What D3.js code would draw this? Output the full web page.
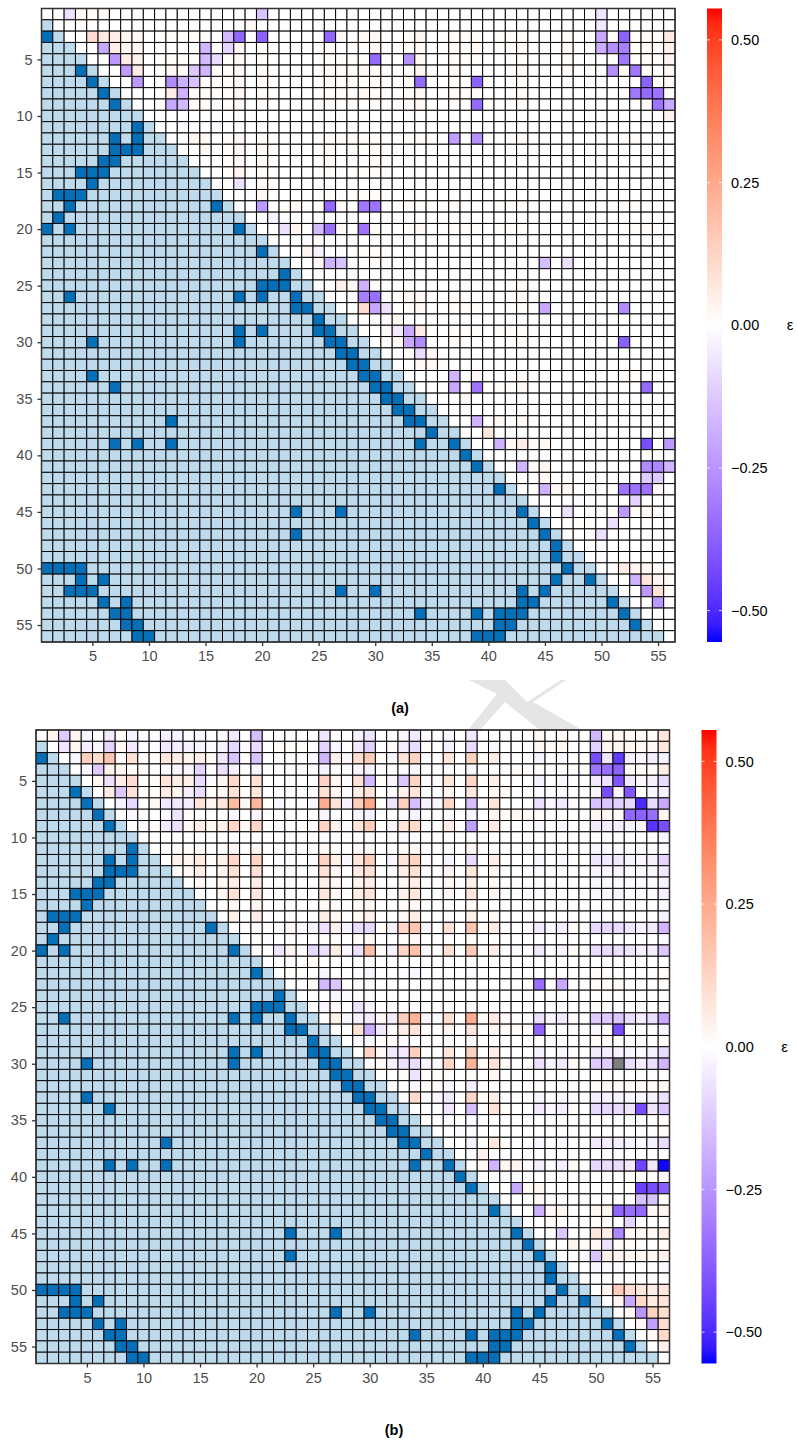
<!DOCTYPE html>
<html>
<head>
<script src="https://d3js.org/d3.v7.min.js"></script>
<style>
body { margin: 0; padding: 0; background: #fff; }
text { font-family: "Liberation Sans", Arial, sans-serif; }
.tick text { font-size: 14.5px; }
.cap { font-size: 14.5px; font-weight: bold; }
</style>
</head>
<body>
<script>
var ticks = [5,10,15,20,25,30,35,40,45,50,55];
var legendTicks = [0.5,0.25,0,-0.25,-0.5];
var n = 56;
var limit = 0.555;

// dark cells of the lower triangle: [row, col, col...], same in both panels
var darkCells = [
 [3,1],[6,4],[7,5],[8,6],[9,7],[11,9],[12,7,9],[13,7,8,9],[14,6,7],[15,4,5,6],[16,5],
 [17,2,3,4],[18,3,16],[19,2],[20,1,3,18],[22,20],[24,22],[25,20,21,22],[26,3,18,20,23],
 [27,23,24],[28,25],[29,18,20,25,26],[30,5,18,26,27],[31,27,28],[32,28,29],[33,5,29,30],
 [34,7,30,31],[35,31,32],[36,32,33],[37,12,33,34],[38,35],[39,7,9,12,34,37],[40,38],[41,39],
 [43,41],[45,23,27,43],[46,44],[47,23,45],[48,46],[49,46],[50,1,2,3,4,47],[51,4,6,46,49],
 [52,3,4,5,27,30,43,45],[53,6,8,43,44,51],[54,7,8,34,39,41,42,43,52],[55,8,9,41,42,53],
 [56,9,10,39,40,41]
];

// upper triangle of (a): [row, col, eps, col, eps, ...]
var epsA = [
 [1, 3,-.07,4,.02,5,.01,6,.01,7,.01,20,-.14,50,-.06],
 [2, 4,.01,17,-.01,19,.02,50,-.05],
 [3, 5,.1,6,.06,7,.05,8,.03,9,.02,12,.01,13,.01,14,.01,15,.01,17,-.16,18,-.36,20,-.37,26,-.36,27,.02,29,.02,30,.02,33,.01,34,.03,37,.01,39,.01,41,.01,43,.01,45,.01,47,.01,50,-.2,51,.01,52,-.37,53,.01,54,.01,55,.01,56,.06],
 [4, 6,-.2,7,.05,8,.03,9,.02,15,-.17,17,-.1,18,.02,20,.01,26,.01,29,.01,30,.02,33,.01,34,.02,37,.01,39,.02,41,.01,43,.01,45,.01,47,.01,50,-.19,51,-.26,52,-.3,53,.01,54,.01,55,.01,56,.04],
 [5, 7,-.24,8,.06,9,.04,12,.01,13,.01,14,.01,15,-.16,16,-.08,17,.01,18,.02,20,.01,26,.01,27,.01,29,.01,30,-.35,33,-.26,34,.02,37,.01,39,.01,43,.01,45,.01,47,.01,52,-.32,53,.01,54,.01,55,.01,56,.03],
 [6, 8,-.23,9,.06,12,.02,13,.01,14,-.13,15,-.17,16,.01,17,.01,18,.02,20,.01,26,.01,27,.01,29,.02,30,.01,33,.01,34,.03,37,.01,39,.01,43,.01,45,.01,47,.01,51,-.26,52,.01,53,-.32,54,.01,56,.02],
 [7, 9,-.24,12,-.27,13,-.18,14,-.14,15,.01,16,.01,17,.01,18,.02,20,.01,26,.01,27,.01,29,.01,30,.01,33,.01,34,-.35,37,.01,39,-.37,43,.01,53,.01,54,-.37,55,.01,56,.02],
 [8, 12,.05,13,-.18,14,.01,15,.01,16,.01,17,.01,18,.02,20,.01,26,.01,27,.01,29,.02,30,.01,33,.01,34,.02,37,.01,39,.01,43,.01,52,.01,53,-.32,54,-.35,55,-.33,56,.01],
 [9, 11,.01,12,-.2,13,-.16,14,.01,15,.01,17,.01,18,.02,20,.01,26,.01,27,.01,29,.01,30,.01,33,.01,34,.02,37,.01,39,-.35,41,.01,43,.01,53,.01,54,.01,55,-.33,56,-.2],
 [10, 56,.04],
 [11, 13,-.01,14,-.01,16,-.01],
 [12, 14,.03,15,.02,17,.01,18,.02,20,.01,26,.01,27,.01,29,.01,30,.01,33,.01,34,.01,37,-.22,39,-.26,43,.01,45,.01,52,.01,53,.01,55,.01],
 [13, 15,.02,17,.01,18,.02,20,.01,26,.01,29,.01,30,.01,39,.01],
 [14, 17,.01,18,.02,20,.01,26,.01,29,.01,30,.01],
 [15, 17,.01,18,.03,20,.01,26,.01,29,.01,30,.01],
 [16, 18,-.07,19,-.01,20,.01],
 [17, 19,-.01,20,.02,26,.01,29,.01,30,.01],
 [18, 20,-.24,22,.01,23,.02,25,.01,26,-.36,27,.02,29,-.32,30,-.33,33,.01,34,.01,37,.01,39,.01,41,.01,43,.01,45,.01,52,.01,53,.01],
 [19, 21,-.03,22,-.01],
 [20, 22,-.07,23,.03,25,-.16,26,-.34,27,.02,29,-.33,30,.01,33,.01,34,.02,37,.01,39,.01,41,.01,43,.01,45,.01,52,.01,53,.01,54,.01,55,.01],
 [21, 24,-.01,25,.01],
 [22, 24,.03,25,-.03,29,.01,30,.01],
 [23, 25,.02,26,-.18,27,-.14,29,.01,30,.01,45,-.15,47,-.07],
 [24, 28,-.01],
 [25, 27,.04,28,.02,29,-.18,30,.01,39,.01,43,.01],
 [26, 29,-.3,30,-.34,31,.01,33,.02,34,.02,37,.01,39,.01,41,.01,43,.01,45,.01,52,.01],
 [27, 29,.1,30,-.2,31,-.07,33,.01,34,.02,37,.01,39,.01,43,.01,45,-.2,52,-.27],
 [28, 31,.01,32,.03],
 [29, 31,.02,32,-.05,33,-.2,34,.06,37,.01,39,.01,41,.01,43,.01,45,.01,52,.01],
 [30, 32,.02,33,-.2,34,-.27,37,.01,39,.01,41,.01,43,.01,45,.01,52,-.38],
 [31, 33,.01,34,-.08,35,.02],
 [32, 34,.02,35,.02,36,.01],
 [33, 37,-.17,39,.02,41,.01,43,.01,45,.01,52,.01,53,.01],
 [34, 37,-.2,39,-.33,41,.01,43,.02,45,.01,54,-.35],
 [35, 38,.02],
 [36, 38,-.01],
 [37, 39,-.18,41,.02,43,.02,45,.01],
 [38, 40,.07],
 [39, 41,-.18,42,.02,43,.05,44,.01,45,.02,54,-.42,56,-.24],
 [40, 42,-.01,44,-.01,56,-.01],
 [41, 43,-.17,44,.01,45,.03,54,-.27,55,-.28,56,-.17],
 [42, 45,.02,54,-.12,55,-.12],
 [43, 45,-.18,46,.02,47,.02,52,-.33,53,-.33,54,-.33,55,.02],
 [44, 47,-.01,48,-.01,53,-.1],
 [45, 47,-.07,50,.01,51,.01,52,-.24,53,.01,54,.01,55,.01],
 [46, 48,.01,49,.01,51,-.07,52,.01],
 [47, 49,-.01,50,-.07,51,.01],
 [48, 50,-.01],
 [49, 50,-.01],
 [50, 52,.06,53,.03,54,.02,55,.01],
 [51, 53,-.18,54,.07,55,.03,56,.01],
 [52, 54,-.24,55,.09,56,.01],
 [53, 55,-.24,56,.01]
];

// upper triangle of (b)
var epsB = [
 [1, 2,.03,3,-.12,4,.03,5,-.02,7,-.05,8,.01,9,-.03,11,-.01,12,-.04,13,-.03,14,-.01,15,-.02,17,-.01,18,-.05,20,-.15,26,-.05,29,-.03,30,-.06,33,-.02,34,-.05,37,-.02,39,-.05,41,-.01,43,.01,45,.02,47,.02,50,-.17,51,.02,52,.02,53,.02,54,.01,55,.01,56,.07],
 [2, 3,-.06,4,.03,5,-.04,6,-.02,7,-.1,8,.02,9,-.05,11,-.01,12,-.05,13,-.04,14,-.03,15,-.03,16,-.01,17,-.03,18,-.09,19,-.01,20,-.08,22,.01,24,.01,26,-.1,27,-.02,29,-.05,30,-.11,32,.01,33,-.04,34,-.08,35,.01,37,-.04,39,-.08,41,-.02,45,.02,46,.01,47,.02,50,-.11,51,.03,52,.03,53,.03,54,.02,55,.02,56,.07],
 [3, 4,-.02,5,.14,6,.1,7,.17,8,.01,9,.09,11,.01,12,.07,13,.05,14,.03,15,.05,16,.02,17,-.06,18,-.14,19,.01,20,-.14,22,-.01,23,.01,25,-.01,26,-.17,27,.04,28,-.02,29,.1,30,.15,31,.01,32,-.02,33,.08,34,.13,35,-.01,37,.07,39,.13,40,.01,41,.05,45,-.03,47,-.02,50,-.42,51,-.06,52,-.46,53,-.04,54,-.02,55,-.04,56,-.03],
 [4, 5,-.02,6,-.12,7,.04,8,.03,9,.01,12,-.01,13,-.02,14,-.02,15,-.1,17,-.07,18,-.03,20,-.02,26,-.03,28,-.01,29,-.02,30,-.03,33,-.01,34,-.02,37,-.01,39,-.02,43,.01,45,.01,47,.01,50,-.33,51,-.34,52,-.37,53,.02,54,.01,55,.01,56,.05],
 [5, 6,.03,7,-.07,8,.05,9,.1,11,.01,12,.08,13,.05,14,.04,15,-.08,16,-.01,17,.03,18,.11,19,.01,20,.09,26,.13,27,.03,28,-.01,29,.09,30,-.16,31,.01,32,-.02,33,-.13,34,.13,35,-.01,36,-.01,37,.07,39,.12,40,.01,41,.05,45,-.03,47,-.02,50,-.05,51,-.07,52,-.4,53,-.05,54,-.02,55,-.03,56,-.08],
 [6, 7,.06,8,-.13,9,.09,11,.01,12,.06,13,.03,14,-.04,15,-.08,16,.01,17,.02,18,.09,19,.01,20,.07,26,.09,27,.02,28,-.01,29,.05,30,.08,32,-.01,33,.04,34,.08,37,.03,39,.07,41,.03,42,.01,45,-.01,47,-.01,50,-.02,51,-.42,52,-.02,53,-.4,55,-.02,56,-.03],
 [7, 8,-.03,9,-.09,11,.02,12,-.05,13,-.05,14,-.04,15,.08,16,.03,17,.08,18,.2,19,.02,20,.21,21,.01,22,-.02,24,-.01,25,-.02,26,.24,27,.08,28,-.03,29,.14,30,.25,31,.01,32,-.06,33,.14,34,-.15,35,-.03,36,-.02,37,.12,39,-.15,40,.01,41,.08,45,-.07,46,-.02,47,-.05,48,.01,50,-.14,51,-.13,52,-.11,53,-.09,54,-.5,55,-.08,56,-.2],
 [8, 9,-.02,10,.01,12,-.01,13,-.06,18,-.02,20,-.02,26,-.02,29,-.02,30,-.03,33,-.01,34,-.03,37,-.01,39,-.02,41,.03,42,.01,43,.02,44,.01,45,.01,47,.01,50,.03,51,.02,52,.01,53,-.36,54,-.37,55,-.34,56,.03],
 [9, 10,-.01,11,.01,12,-.05,13,-.07,14,.02,15,.05,16,.02,17,.04,18,.12,19,.02,20,.12,22,-.01,25,-.01,26,.13,27,.04,28,-.01,29,.08,30,.14,32,-.02,33,.08,34,.11,35,-.01,37,.05,39,-.22,40,.01,41,.06,45,-.02,47,-.02,50,-.05,51,-.04,52,-.04,53,-.03,54,-.02,55,-.48,56,-.42],
 [10, 18,-.01,26,-.01,30,-.01,33,-.01,34,-.01,56,-.02],
 [11, 13,.01,15,.01,18,.02,20,.02,26,.02,27,.01,29,.01,30,.02,33,.01,34,.02,37,.01,39,.02,50,-.02,51,-.01,52,-.01,53,-.01,54,-.01,55,-.01,56,-.01],
 [12, 13,.04,14,.03,15,.06,16,.01,17,.04,18,.12,20,.12,22,-.01,25,-.01,26,.13,27,.04,28,-.02,29,.07,30,.14,32,-.02,33,.08,34,.13,35,-.01,37,-.03,39,-.08,41,.05,45,-.02,47,-.02,50,-.06,51,-.05,52,-.05,53,-.03,54,-.02,55,-.03,56,-.1],
 [13, 14,.02,15,.05,17,.03,18,.09,20,.09,26,.09,27,.02,29,.06,30,.09,32,-.01,33,.05,34,.09,35,-.01,37,.03,39,.07,41,.03,45,-.01,47,-.01,50,-.03,51,-.02,52,-.02,53,-.01,54,-.01,55,-.02,56,-.05],
 [14, 15,.02,17,.02,18,.05,20,.05,26,.05,27,.02,29,.03,30,.05,33,.03,34,.05,37,.02,39,.04,41,.02,50,-.02,51,-.01,52,-.01,53,-.01,54,-.01,55,-.01,56,-.03],
 [15, 17,.03,18,.09,20,.07,26,.07,27,.02,29,.05,30,.08,33,.04,34,.07,37,.02,39,.07,41,.03,45,-.01,50,-.02,51,-.01,52,-.02,53,-.01,54,-.01,55,-.01,56,-.04],
 [16, 18,.02,20,.02,26,.02,27,.01,29,.01,30,.02,33,.01,34,.02,39,.01,56,-.01],
 [17, 18,.04,20,.05,26,.05,27,.02,29,.02,30,.04,33,.02,34,.05,37,.01,39,.04,41,.02,50,-.01,56,-.03],
 [18, 19,.01,20,-.01,21,.01,22,-.01,23,.02,24,-.01,25,-.03,26,-.07,27,.04,28,-.03,29,-.08,30,-.09,31,.01,32,-.03,33,.12,34,.17,35,-.02,37,.09,39,.17,40,.01,41,.06,45,-.05,46,-.01,47,-.04,48,.01,50,-.09,51,-.09,52,-.08,53,-.06,54,-.03,55,-.05,56,-.17],
 [19, 20,.01,21,-.01,26,.01,27,.01,29,.01,30,.02,33,.01,34,.02,39,.01,56,-.01],
 [20, 22,-.06,23,.03,25,-.09,26,-.07,27,.05,28,-.02,29,-.07,30,.19,31,.01,32,-.03,33,.12,34,.18,35,-.01,37,.09,39,.15,41,.05,43,-.01,45,-.05,47,-.03,48,.01,50,-.08,51,-.08,52,-.07,53,-.06,54,-.03,55,-.04,56,-.13],
 [21, 25,.01,30,.01],
 [22, 24,.01,26,-.02,29,-.01,30,-.02,33,-.01,34,-.02,39,-.01,50,.01,56,.01],
 [23, 25,.01,26,-.16,27,-.13,30,.01,45,-.34,47,-.2,50,.01,51,.01,52,.01,56,.01],
 [24, 27,-.02,28,-.01,30,-.01,34,-.01],
 [25, 26,-.02,27,.01,29,-.07,30,-.02,34,-.01,39,-.01,50,.01,51,.01],
 [26, 27,.04,28,-.02,29,-.03,30,-.05,31,.02,32,-.04,33,.14,34,.22,35,-.02,36,-.01,37,.1,39,.24,40,.01,41,.06,42,.01,45,-.07,46,-.02,47,-.05,48,.01,50,-.12,51,-.12,52,-.13,53,-.08,54,-.04,55,-.07,56,-.2],
 [27, 29,.09,30,-.19,31,-.05,33,.05,34,.08,37,.03,39,.07,41,.03,42,.01,43,.01,45,-.36,50,-.02,52,-.42,56,-.02],
 [28, 29,-.02,30,-.01,31,.01,32,.01,33,-.01,34,-.01,37,-.01,39,-.01,45,.01,50,.01,51,.01,56,.01],
 [29, 30,.12,31,.02,32,-.05,33,-.05,34,.14,37,.07,39,.13,41,.05,45,-.03,47,-.02,50,-.05,51,-.04,52,-.03,53,-.02,54,-.01,55,-.03,56,-.08],
 [30, 31,.02,32,-.03,33,-.07,34,-.08,35,-.02,36,-.01,37,.12,39,.22,40,.01,41,.09,42,.01,45,-.07,46,-.02,47,-.05,48,.01,50,-.12,51,-.12,53,-.08,54,-.04,55,-.07,56,-.17],
 [31, 33,.01,34,-.06,35,.01,36,.01,37,.01,39,.01,41,.03],
 [32, 34,-.02,35,.01,36,.01,37,-.02,39,-.04,45,.01,50,.01,51,.01,52,.01,53,.01,54,.01,55,.01,56,.02],
 [33, 34,.11,35,-.01,36,-.02,37,-.05,39,.12,40,.01,41,.05,45,-.02,47,-.02,50,-.04,51,-.03,52,-.03,53,-.02,54,-.01,55,-.03,56,-.07],
 [34, 35,-.01,37,-.06,39,-.15,40,.01,41,.09,42,.01,45,-.05,46,-.02,47,-.04,48,.01,50,-.09,51,-.09,52,-.08,53,-.06,54,-.42,55,-.06,56,-.13],
 [35, 37,-.01,38,.01,39,-.01,40,-.01,50,.01,56,.01],
 [36, 38,-.01,39,-.01,56,.01],
 [37, 39,-.03,41,.07,42,.01,45,-.02,47,-.02,50,-.05,51,-.04,52,-.04,53,-.03,54,-.01,55,-.03,56,-.08],
 [38, 40,.04,42,-.01],
 [39, 40,.02,41,-.17,42,.03,43,.03,45,-.04,46,-.01,47,-.04,48,.01,50,-.09,51,-.08,52,-.08,53,-.05,54,-.44,55,-.05,56,-.55],
 [40, 42,-.01,43,-.01,56,-.02],
 [41, 43,-.2,44,.02,45,.03,54,-.45,55,-.42,56,-.38],
 [42, 45,.02,54,-.14,55,-.14],
 [43, 45,-.18,46,.02,47,.03,50,.03,51,.03,52,-.36,53,-.34,54,-.35,55,.02,56,.03],
 [44, 46,.01,50,.01,51,.01,53,-.1],
 [45, 47,-.13,50,.07,51,.05,52,-.28,53,.03,54,.02,55,.02,56,.05],
 [46, 48,.03,49,.01,50,.02,51,-.07,52,.01,53,.01,56,.01],
 [47, 49,-.01,50,-.14,51,.04,52,.03,53,.03,54,.02,55,.02,56,.04],
 [48, 50,-.02,51,-.01,52,-.01,56,-.01],
 [50, 51,.03,52,.15,53,.1,54,.07,55,.05,56,.07],
 [51, 52,.03,53,-.2,54,.11,55,.06,56,.08],
 [52, 53,.02,54,-.25,55,.13,56,.1],
 [53, 54,.02,55,-.22,56,.1],
 [54, 55,.02,56,.11],
 [55, 56,.04]
];
var naB = [[30,52]];

var color = d3.scaleLinear().domain([-limit,0,limit]).range(["#0000ff","#ffffff","#ff0000"]).interpolate(d3.interpolateLab);

var svg = d3.select("body").append("svg").attr("width",798).attr("height",1441);

// grey watermark behind the panels
svg.append("path").attr("fill","#e5e5e5")
  .attr("d","M469,680 L505,680 L527,702 L561,680 L566,680 L533,702 L582,730 L540,730 L505,702 L480,730 L468,730 L497,694 Z");

var defs = svg.append("defs");

function drawPanel(id, x0, y0, eps, na, caption, capX, capY) {
    var size = 633.5;
    var x = d3.scaleLinear().domain([0.5,n+0.5]).range([x0,x0+size]);
    var y = d3.scaleLinear().domain([0.5,n+0.5]).range([y0,y0+size]);
    var g = svg.append("g");

    var lookup = {};
    eps.forEach(function(r) {
        for (var i = 1; i < r.length; i += 2) lookup[r[0]+"_"+r[i]] = r[i+1];
    });
    var dark = {};
    darkCells.forEach(function(r) {
        r.slice(1).forEach(function(c) { dark[r[0]+"_"+c] = true; });
    });
    var missing = {};
    na.forEach(function(p) { missing[p[0]+"_"+p[1]] = true; });

    var cells = [];
    d3.range(1,n+1).forEach(function(r) {
        d3.range(1,n+1).forEach(function(c) {
            cells.push({r:r, c:c});
        });
    });

    g.selectAll("rect.cell").data(cells).enter().append("rect")
        .attr("class","cell")
        .attr("x", function(d) { return x(d.c-0.5); })
        .attr("y", function(d) { return y(d.r-0.5); })
        .attr("width", x(2)-x(1))
        .attr("height", y(2)-y(1))
        .attr("stroke","#000")
        .attr("stroke-width",0.95)
        .attr("fill", function(d) {
            var k = d.r+"_"+d.c;
            if (d.c < d.r) return dark[k] ? "#0570b8" : "#bedaed";
            if (missing[k]) return "#7f7f7f";
            return color(lookup[k] || 0);
        });

    g.append("rect").attr("x",x0).attr("y",y0).attr("width",size).attr("height",size)
        .attr("fill","none").attr("stroke","#333").attr("stroke-width",1.5);

    var xAxis = g.append("g").attr("transform","translate(0,"+(y0+size)+")")
        .call(d3.axisBottom(x).tickValues(ticks).tickSize(4).tickPadding(5));
    var yAxis = g.append("g").attr("transform","translate("+x0+",0)")
        .call(d3.axisLeft(y).tickValues(ticks).tickSize(4).tickPadding(5));
    [xAxis,yAxis].forEach(function(a) {
        a.select(".domain").remove();
        a.selectAll(".tick line").attr("stroke","#333").attr("stroke-width",1.3);
        a.selectAll(".tick text").attr("fill","#4d4d4d");
    });

    // colour bar
    var barX = x0+size+32;
    var barY = d3.scaleLinear().domain([limit,-limit]).range([y0,y0+size]);
    var grad = defs.append("linearGradient").attr("id","grad"+id)
        .attr("x1",0).attr("x2",0).attr("y1",0).attr("y2",1);
    d3.range(0,41).forEach(function(i) {
        grad.append("stop").attr("offset",(i/40))
            .attr("stop-color",color(limit-2*limit*i/40));
    });
    g.append("rect").attr("x",barX).attr("y",y0).attr("width",15).attr("height",size)
        .attr("fill","url(#grad"+id+")");
    var leg = g.append("g").attr("transform","translate("+(barX+15)+",0)")
        .call(d3.axisRight(barY).tickValues(legendTicks).tickSize(0).tickPadding(9).tickFormat(d3.format(".2f")));
    leg.select(".domain").remove();
    leg.selectAll(".tick text").attr("fill","#000");
    legendTicks.forEach(function(v) {
        [[barX,barX+3],[barX+12,barX+15]].forEach(function(s) {
            g.append("line").attr("x1",s[0]).attr("x2",s[1])
                .attr("y1",barY(v)).attr("y2",barY(v))
                .attr("stroke","#fff").attr("stroke-width",0.8);
        });
    });
    g.append("text").attr("x",barX+83).attr("y",barY(0)+5)
        .attr("text-anchor","middle").attr("font-size",15).text("ε");

    svg.append("text").attr("class","cap").attr("x",capX).attr("y",capY)
        .attr("text-anchor","middle").text(caption);
}

drawPanel("a",41.5,8.5,epsA,[],"(a)",400,713);
drawPanel("b",36,730,epsB,naB,"(b)",394,1435);
</script>
</body>
</html>
